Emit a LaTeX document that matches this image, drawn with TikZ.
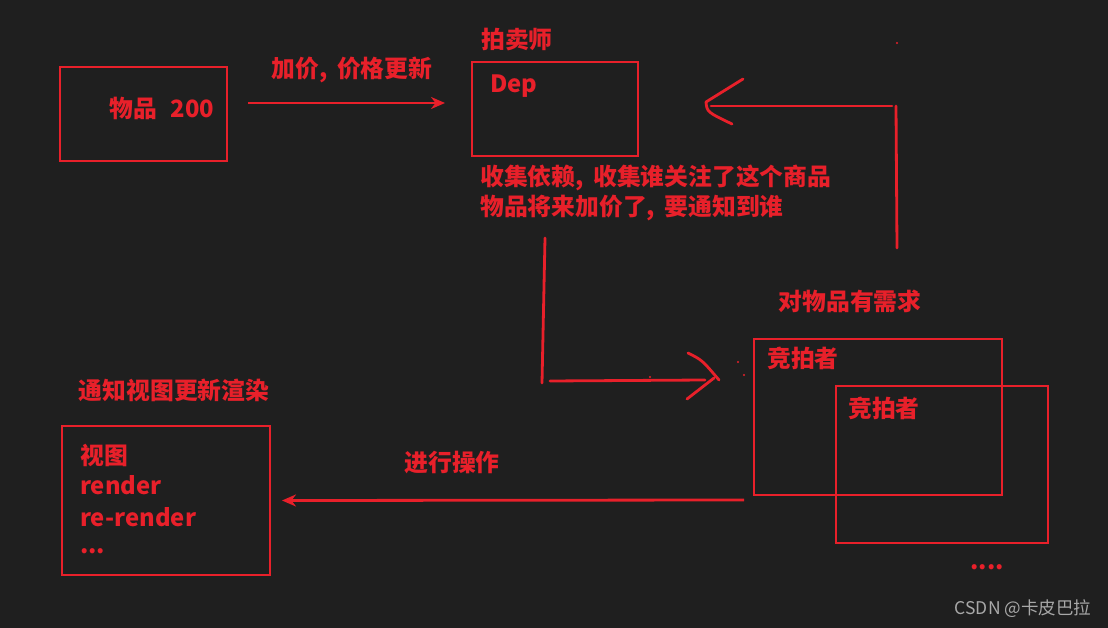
\documentclass[tikz,border=0pt]{standalone}
\usepackage{fontspec}
\setmainfont{Noto Sans CJK SC}
\usetikzlibrary{arrows.meta,calc}
\definecolor{inkred}{HTML}{E8202A}
\definecolor{boardbg}{HTML}{1F1F1F}
\definecolor{markgray}{HTML}{A8A8A8}

\begin{document}
\begin{tikzpicture}[x=1pt, y=-1pt,
    box/.style={draw=inkred, line width=2.6pt, inner sep=0pt, outer sep=0pt},
    lbl/.style={text=inkred, inner sep=0pt, font=\bfseries\fontsize{23.8}{28}\selectfont},
    arr/.style={draw=inkred, line width=2.8pt, -{Stealth[length=14pt,width=12pt]}},
    pen/.style={draw=inkred, line width=2.8pt, line cap=round, line join=round}]
    \fill[boardbg] (0,0) rectangle (1108,628);
    \useasboundingbox (0,0) rectangle (1108,628);

    \node[box, minimum width=167pt, minimum height=94pt] (item) at (143.5,114) {};
    \node[box, minimum width=166pt, minimum height=94pt] (dep) at (555,109) {};
    \node[box, minimum width=248pt, minimum height=156pt] (bid1) at (878,417) {};
    \node[box, minimum width=212pt, minimum height=157pt] (bid2) at (942,464.5) {};
    \node[box, minimum width=208pt, minimum height=149pt] (view) at (166,500.5) {};

    \node[lbl] (itemtxt) at (162,108) {物品\hspace{13pt}200};
    \node[lbl] (raise) at (352,70) {加价,\hspace{4pt} 价格更新};
    \node[lbl] (auctioneer) at (517,40) {拍卖师};
    \node[lbl, anchor=west] (deptxt) at (490,86) {Dep};
    \node[lbl, anchor=west] (collect1) at (480,178) {收集依赖,\hspace{4pt} 收集谁关注了这个商品};
    \node[lbl, anchor=west] (collect2) at (480,208) {物品将来加价了,\hspace{4pt} 要通知到谁};
    \node[lbl] (need) at (850,301) {对物品有需求};
    \node[lbl, anchor=west] (bidtxt1) at (767,358) {竞拍者};
    \node[lbl, anchor=west] (bidtxt2) at (848,408) {竞拍者};
    \node[lbl] (more) at (987,567) {....};
    \node[lbl] (operate) at (452,463) {进行操作};
    \node[lbl] (notify) at (174,390) {通知视图更新渲染};
    \node[lbl, anchor=west] (viewtxt1) at (80,455) {视图};
    \node[lbl, anchor=west] (viewtxt2) at (80,485) {render};
    \node[lbl, anchor=west] (viewtxt3) at (80,517) {re-render};
    \node[lbl, anchor=west] (viewtxt4) at (80,551) {...};
    \node[text=markgray, inner sep=0pt, font=\fontsize{17.5}{20}\selectfont] (mark) at (1023,609) {CSDN @卡皮巴拉};

    \draw[arr] ($(item.east)+(21,-11)$) -- ($(dep.west)+(-27,-6)$);
    \draw[arr] ($(bid1.south west)+(-10,5)$) -- ($(view.east)+(12,0)$);

    % hand drawn arrow back to the auctioneer
    \coordinate (backlow) at (897,248);
    \coordinate (backcorner) at (896,106);
    \coordinate (backtip) at (706,102);
    \draw[pen] (backlow) -- (backcorner);
    \draw[pen] ($(backcorner)+(-4,0)$) -- (711,106);
    \draw[pen] (743,79) -- (backtip) .. controls (707,112) .. (732,124);

    % hand drawn arrow from the auctioneer to the bidders
    \coordinate (downtop) at (545,238);
    \coordinate (downlow) at (542,383);
    \coordinate (righttip) at (719,380);
    \draw[pen] (downtop) -- (downlow);
    \draw[pen] (550,381) -- (705,380);
    \draw[pen] (688,353) .. controls (702,360) .. (righttip);
    \draw[pen] (714,378) -- (687,399);

    \fill[inkred] (897,43) circle (1.2);
    \fill[inkred] (738,362) circle (1.2);
    \fill[inkred] (744,375) circle (1.2);
    \fill[inkred] (650,377) circle (1.2);
\end{tikzpicture}
\end{document}
